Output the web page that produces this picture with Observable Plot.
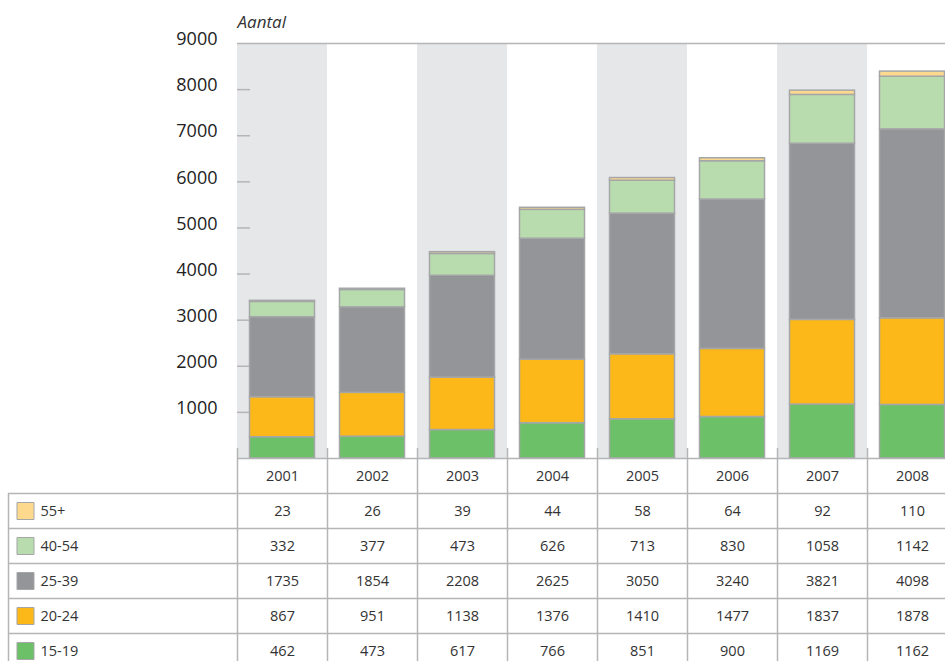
<!DOCTYPE html>
<html>
<head>
<meta charset="utf-8">
<script src="https://cdn.jsdelivr.net/npm/d3@7"></script>
<script src="https://cdn.jsdelivr.net/npm/@observablehq/plot@0.6"></script>
<style>
  body { margin: 0; background: #fff; }
  #chart svg, #table svg { display: block; }
  #table { margin-top: -12px; position: relative; }
</style>
</head>
<body>
<div id="chart"></div>
<div id="table"></div>
<script>
const years = ["2001","2002","2003","2004","2005","2006","2007","2008"];
const groups = ["15-19","20-24","25-39","40-54","55+"];
const groupsTop = ["55+","40-54","25-39","20-24","15-19"];
const colors = ["#6cc068","#fbb818","#939598","#b8dcae","#fdd98e"];
const v15_19 = [462,473,617,766,851,900,1169,1162];
const v20_24 = [867,951,1138,1376,1410,1477,1837,1878];
const v25_39 = [1735,1854,2208,2625,3050,3240,3821,4098];
const v40_54 = [332,377,473,626,713,830,1058,1142];
const v55 = [23,26,39,44,58,64,92,110];
const yTicks = [1000,2000,3000,4000,5000,6000,7000,8000,9000];
const shadedYears = ["2001","2003","2005","2007"];
const yLabel = "Aantal";

const series = {"15-19": v15_19, "20-24": v20_24, "25-39": v25_39, "40-54": v40_54, "55+": v55};
const data = [];
for (const g of groups) years.forEach((y, i) => data.push({year: y, group: g, value: series[g][i]}));
const colorOf = Object.fromEntries(groups.map((g, i) => [g, colors[i]]));

const font = "'Open Sans', 'Noto Sans', sans-serif";
const lineColor = "#b4b5b7";

const chart = Plot.plot({
  width: 945, height: 460,
  marginLeft: 237, marginRight: 0, marginTop: 43, marginBottom: 2,
  style: {background: "transparent", fontFamily: font, color: "#222"},
  x: {type: "band", domain: years, range: [237, 957], padding: 0, axis: null},
  y: {domain: [0, 9000], range: [458, 43], axis: null},
  color: {domain: groups, range: colors},
  marks: [
    Plot.cell(shadedYears, {x: d => d, fill: "#e6e7e8", inset: 0}),
    Plot.ruleY([9000], {stroke: lineColor, strokeWidth: 1.5}),
    Plot.ruleY(yTicks.filter(t => t < 9000), {stroke: lineColor, strokeWidth: 1.5, insetRight: 695}),
    Plot.axisY(yTicks, {tickSize: 0, tickPadding: 20, tickFormat: d => String(d), fontSize: 18, dy: -4, fill: "#222", label: null}),
    Plot.text([yLabel], {frameAnchor: "top-left", dy: -28, fontSize: 17, fontStyle: "italic", fill: "#333", textAnchor: "start"}),
    Plot.barY(data, Plot.stackY({order: groups}, {x: "year", y: "value", fill: "group", stroke: "#a5a6a8", strokeWidth: 1.5, insetLeft: 12.5, insetRight: 12.5})),
    Plot.ruleY([0], {stroke: lineColor, strokeWidth: 1.5})
  ]
});
document.getElementById("chart").appendChild(chart);

const table = Plot.plot({
  width: 945, height: 220,
  marginLeft: 8, marginRight: 0, marginTop: 0, marginBottom: 0,
  style: {background: "transparent", fontFamily: font, color: "#333"},
  x: {type: "band", domain: years, range: [237, 957], padding: 0, axis: null},
  y: {type: "band", domain: ["header", ...groupsTop], range: [10, 220], padding: 0, axis: null},
  marks: [
    Plot.ruleX(years, {x: d => d, dx: -45, stroke: lineColor, strokeWidth: 1.5}),
    Plot.ruleX(["2001"], {x: d => d, dx: -274, insetTop: 45, stroke: lineColor, strokeWidth: 1.5}),
    Plot.ruleY(groupsTop, {y: d => d, dy: -17.5, stroke: lineColor, strokeWidth: 1.5}),
    Plot.text(years, {x: d => d, y: () => "header", fontSize: 14.5, fill: "#333"}),
    Plot.text(data, {x: "year", y: "group", text: d => String(d.value), fontSize: 14.5, fill: "#333"}),
    Plot.dot(groupsTop, {y: d => d, frameAnchor: "left", dx: 17, symbol: "square", r: 9.6, fill: d => colorOf[d], stroke: "#a5a6a8", strokeWidth: 1}),
    Plot.text(groupsTop, {y: d => d, text: d => d, frameAnchor: "left", dx: 32, textAnchor: "start", fontSize: 14.5, fill: "#333"})
  ]
});
document.getElementById("table").appendChild(table);
</script>
</body>
</html>
